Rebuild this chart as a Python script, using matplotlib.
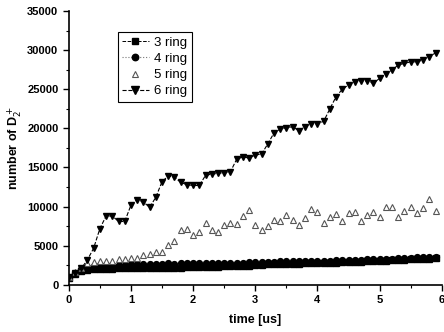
import matplotlib.pyplot as plt
from matplotlib.ticker import MultipleLocator

plt.rcParams['font.family'] = ['Liberation Sans', 'DejaVu Sans']

# time axis, 0.1 us steps
t = [i / 10 for i in range(60)]

ring3 = [900, 1400, 1800, 1950, 2000, 2000, 2050, 2050, 2100, 2100,
         2100, 2150, 2100, 2150, 2150, 2200, 2150, 2200, 2200, 2250,
         2250, 2250, 2300, 2300, 2300, 2350, 2350, 2400, 2400, 2450,
         2500, 2500, 2650, 2650, 2650, 2700, 2700, 2700, 2750, 2750,
         2800, 2800, 2850, 2850, 2900, 2900, 2950, 2950, 3050, 3050,
         3100, 3100, 3150, 3200, 3200, 3250, 3300, 3300, 3350, 3400]

ring4 = [1000, 1500, 2000, 2300, 2450, 2500, 2550, 2550, 2600, 2600,
         2650, 2650, 2700, 2650, 2700, 2700, 2750, 2700, 2750, 2750,
         2800, 2750, 2800, 2800, 2800, 2850, 2800, 2850, 2850, 2900,
         2900, 2900, 2950, 2950, 3000, 3000, 3000, 3050, 3050, 3050,
         3100, 3100, 3100, 3150, 3150, 3200, 3200, 3200, 3250, 3250,
         3300, 3350, 3350, 3400, 3400, 3450, 3500, 3500, 3550, 3600]

ring5 = [1000, 1600, 2200, 2800, 2950, 3000, 3000, 3050, 3250, 3300,
         3400, 3450, 3800, 4000, 4150, 4250, 5050, 5650, 7000, 7100,
         6400, 6800, 7850, 6950, 6700, 7650, 7950, 7800, 8800, 9600,
         7650, 6950, 7550, 8300, 8200, 8950, 8300, 7650, 8500, 9650,
         9350, 7950, 8650, 9000, 8100, 9150, 9350, 8100, 8950, 9350,
         8700, 9900, 10000, 8700, 9500, 9900, 9150, 9800, 10950, 9500]

ring6 = [1000, 1500, 2100, 3200, 4700, 7200, 8800, 8800, 8100, 8100,
         10200, 10900, 10600, 9900, 11200, 13200, 13900, 13750, 13100, 12800,
         12700, 12700, 14000, 14150, 14250, 14350, 14450, 16050, 16350, 16200,
         16600, 16700, 18000, 19400, 19900, 20100, 20200, 19700, 20200, 20600,
         20600, 20900, 22500, 24050, 25000, 25550, 25950, 26100, 26050, 25750,
         26400, 26950, 27450, 28100, 28300, 28500, 28500, 28750, 29150, 29650]

fig = plt.figure(figsize=(4.44, 3.32), dpi=100)
ax = fig.add_axes([0.155, 0.142, 0.84, 0.825])

ax.plot(t, ring3, ls='--', lw=0.7, color='black', marker='s', ms=4.2,
        label='3 ring')
ax.plot(t, ring4, ls=':', lw=0.8, color='#777777', marker='o', ms=4.2,
        mfc='black', mec='black', label='4 ring')
ax.plot(t, ring5, ls='none', marker='^', ms=4, mfc='white',
        mec='#555555', mew=0.8, label='5 ring')
ax.plot(t, ring6, ls='--', lw=0.8, color='black', marker='v', ms=5,
        label='6 ring')

ax.set_xlim(0, 6)
ax.set_ylim(0, 35000)
ax.xaxis.set_major_locator(MultipleLocator(1))
ax.xaxis.set_minor_locator(MultipleLocator(0.5))
ax.yaxis.set_major_locator(MultipleLocator(5000))
ax.yaxis.set_minor_locator(MultipleLocator(2500))
ax.tick_params(which='major', direction='out', length=4, width=1, labelsize=8)
ax.tick_params(which='minor', direction='out', length=2, width=0.8)
for lab in ax.get_xticklabels() + ax.get_yticklabels():
    lab.set_fontweight('bold')

ax.spines['top'].set_visible(False)
ax.spines['right'].set_visible(False)
ax.spines['left'].set_linewidth(1.2)
ax.spines['bottom'].set_linewidth(1.2)

ax.set_xlabel('time [us]', fontsize=9, fontweight='bold', labelpad=6)
ax.set_ylabel('number of D$_2^+$', fontsize=9, fontweight='bold', labelpad=2)

leg = ax.legend(loc='upper left', bbox_to_anchor=(0.131, 0.923),
                borderaxespad=0, fontsize=9.5, fancybox=False, framealpha=1,
                edgecolor='black', handlelength=2.0, handletextpad=0.4,
                labelspacing=0.3, borderpad=0.35, markerscale=1.1)
leg.get_frame().set_linewidth(0.8)

fig.savefig('out.png', dpi=100)
